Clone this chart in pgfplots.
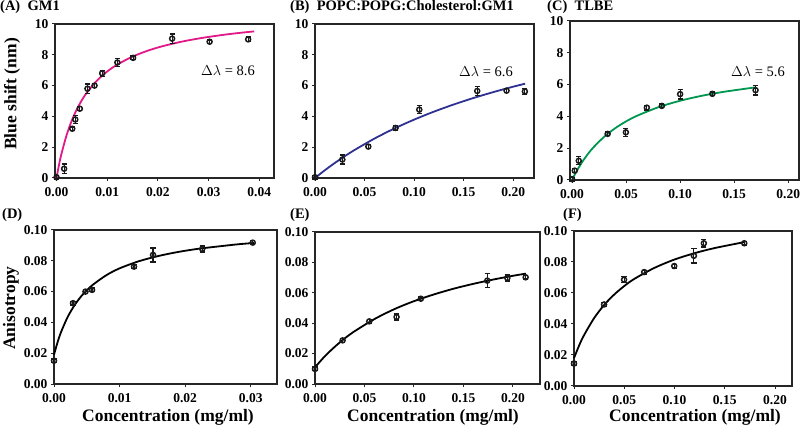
\documentclass[border=0pt]{standalone}
\usepackage{fontspec}
\setmainfont{Liberation Serif}
\usepackage{pgfplots}
\pgfplotsset{compat=1.18}

\definecolor{gmpink}{RGB}{224,24,136}
\definecolor{popcblue}{RGB}{46,49,146}
\definecolor{tlbegreen}{RGB}{0,150,80}

\newcommand\tickfont{\fontsize{13.5pt}{15pt}\selectfont\bfseries}
\newcommand\titlefont{\fontsize{14.5pt}{16pt}\selectfont\bfseries}
\newcommand\labfont{\fontsize{17.5pt}{19pt}\selectfont\bfseries}

\pgfplotsset{
  panel/.style={
    scale only axis, anchor=south west, clip=false,
    axis line style={line width=1.5pt, black!85},
    tick style={line width=1pt, black!85},
    tick align=outside, major tick length=3pt, tick pos=left,
    tick label style={font=\tickfont},
    /pgf/number format/assume math mode=true,
    scaled ticks=false,
    xticklabel style={inner sep=1pt, yshift=-5.5pt, /pgf/number format/.cd, fixed, fixed zerofill, precision=2},
  },
  shiftax/.style={ymin=0, ymax=10, ytick={0,2,4,6,8,10}},
  anisoax/.style={ymin=0, ymax=0.1, ytick={0,0.02,0.04,0.06,0.08,0.10},
    yticklabel style={/pgf/number format/.cd, fixed, fixed zerofill, precision=2}},
  pts/.style={only marks, mark=o, mark size=2.5pt, black!90, line width=1.5pt,
    error bars/.cd, y dir=both, y explicit,
    error bar style={line width=1.1pt, black!90},
    error mark options={rotate=90, mark size=2.6pt, line width=1.3pt, black!90}},
  fit/.style={no marks, smooth, line width=1.8pt},
}

\begin{document}
\begin{tikzpicture}
\path[use as bounding box] (0,0) rectangle (800pt,431pt);

% (A) GM1
\begin{axis}[panel, shiftax, at={(55pt,253pt)}, width=219pt, height=154pt,
  xmin=-0.0003, xmax=0.0429, xtick={0,0.01,0.02,0.03,0.04}]
\addplot[fit, gmpink] coordinates {
  (0,0) (0.0005,0.866) (0.001,1.604) (0.002,2.798) (0.003,3.721) (0.004,4.456)
  (0.005,5.055) (0.006,5.553) (0.008,6.333) (0.010,6.915) (0.012,7.367)
  (0.015,7.882) (0.018,8.267) (0.021,8.566) (0.025,8.874) (0.029,9.111)
  (0.033,9.300) (0.036,9.418) (0.039,9.520)};
\addplot[pts] coordinates {
  (0,0.05) +- (0,0.12)
  (0.0015,0.6) +- (0,0.3)
  (0.0031,3.2) +- (0,0.12)
  (0.0037,3.8) +- (0,0.25)
  (0.0046,4.5) +- (0,0.12)
  (0.0061,5.8) +- (0,0.3)
  (0.0075,6.0) +- (0,0.12)
  (0.0090,6.8) +- (0,0.2)
  (0.0120,7.5) +- (0,0.25)
  (0.0151,7.8) +- (0,0.12)
  (0.0228,9.05) +- (0,0.3)
  (0.0302,8.85) +- (0,0.12)
  (0.0378,9.0) +- (0,0.15)};
\end{axis}

% (B) POPC:POPG:Cholesterol:GM1
\begin{axis}[panel, shiftax, at={(315pt,253pt)}, width=219pt, height=154pt,
  xmin=0, xmax=0.221, xtick={0,0.05,0.10,0.15,0.20}]
\addplot[fit, popcblue] coordinates {
  (0,0) (0.01,0.506) (0.02,0.976) (0.03,1.413) (0.04,1.821) (0.06,2.560)
  (0.08,3.211) (0.10,3.790) (0.12,4.308) (0.14,4.774) (0.16,5.196)
  (0.18,5.579) (0.20,5.929) (0.212,6.124)};
\addplot[pts] coordinates {
  (0,0.05) +- (0,0.12)
  (0.0276,1.2) +- (0,0.3)
  (0.0538,2.04) +- (0,0.12)
  (0.0813,3.25) +- (0,0.15)
  (0.1052,4.44) +- (0,0.25)
  (0.1637,5.65) +- (0,0.3)
  (0.1933,5.67) +- (0,0.12)
  (0.2118,5.62) +- (0,0.2)};
\end{axis}

% (C) TLBE
\begin{axis}[panel, shiftax, at={(570pt,251pt)}, width=229pt, height=159pt,
  xmin=-0.0019, xmax=0.210, xtick={0,0.05,0.10,0.15,0.20}]
\addplot[fit, tlbegreen] coordinates {
  (0,0) (0.002,0.273) (0.005,0.648) (0.01,1.195) (0.015,1.663) (0.02,2.069)
  (0.03,2.736) (0.04,3.261) (0.05,3.686) (0.06,4.036) (0.08,4.581)
  (0.10,4.984) (0.12,5.295) (0.14,5.542) (0.17,5.830)};
\addplot[pts] coordinates {
  (0,0.05) +- (0,0.12)
  (0.0025,0.59) +- (0,0.12)
  (0.0062,1.21) +- (0,0.25)
  (0.0329,2.9) +- (0,0.12)
  (0.0498,3.0) +- (0,0.25)
  (0.0692,4.55) +- (0,0.15)
  (0.0831,4.66) +- (0,0.12)
  (0.1000,5.4) +- (0,0.3)
  (0.1298,5.42) +- (0,0.12)
  (0.1698,5.65) +- (0,0.3)};
\end{axis}

% (D)
\begin{axis}[panel, anisoax, at={(54pt,47pt)}, width=223pt, height=154pt,
  xmin=0, xmax=0.034, xtick={0,0.01,0.02,0.03}]
\addplot[fit, black] coordinates {
  (0,0.0190) (0.0005,0.0265) (0.001,0.0329) (0.002,0.0428) (0.003,0.0503)
  (0.004,0.0562) (0.005,0.0609) (0.006,0.0647) (0.008,0.0707) (0.010,0.0751)
  (0.013,0.0798) (0.016,0.0832) (0.019,0.0858) (0.022,0.0878) (0.025,0.0893)
  (0.028,0.0907) (0.0305,0.0916)};
\addplot[pts] coordinates {
  (0,0.0151) +- (0,0.0012)
  (0.0029,0.0525) +- (0,0.0012)
  (0.0048,0.0600) +- (0,0.0012)
  (0.0058,0.0611) +- (0,0.0012)
  (0.0122,0.0762) +- (0,0.0012)
  (0.0151,0.0838) +- (0,0.0045)
  (0.0226,0.0877) +- (0,0.002)
  (0.0303,0.0918) +- (0,0.0012)};
\end{axis}

% (E)
\begin{axis}[panel, anisoax, at={(315pt,47pt)}, width=225pt, height=152pt,
  xmin=0, xmax=0.2273, xtick={0,0.05,0.10,0.15,0.20}]
\addplot[fit, black] coordinates {
  (0,0.0110) (0.01,0.0183) (0.02,0.0245) (0.03,0.0300) (0.04,0.0347)
  (0.06,0.0427) (0.08,0.0492) (0.10,0.0545) (0.12,0.0589) (0.14,0.0627)
  (0.16,0.0659) (0.18,0.0687) (0.20,0.0712) (0.213,0.0726)};
\addplot[pts] coordinates {
  (0,0.0099) +- (0,0.0012)
  (0.0279,0.0287) +- (0,0.0012)
  (0.0548,0.0412) +- (0,0.0012)
  (0.0824,0.0441) +- (0,0.002)
  (0.1069,0.0561) +- (0,0.0012)
  (0.1740,0.0680) +- (0,0.0045)
  (0.1943,0.0697) +- (0,0.002)
  (0.2128,0.0702) +- (0,0.0012)};
\end{axis}

% (F)
\begin{axis}[panel, anisoax, at={(574pt,45pt)}, width=218pt, height=155pt,
  xmin=0, xmax=0.2169, xtick={0,0.05,0.10,0.15,0.20}]
\addplot[fit, black] coordinates {
  (0,0.0180) (0.005,0.0260) (0.01,0.0328) (0.02,0.0438) (0.03,0.0523)
  (0.04,0.0590) (0.05,0.0645) (0.06,0.0691) (0.08,0.0762) (0.10,0.0816)
  (0.12,0.0857) (0.14,0.0890) (0.17,0.0929)};
\addplot[pts] coordinates {
  (0,0.0145) +- (0,0.0012)
  (0.0299,0.0526) +- (0,0.0012)
  (0.0498,0.0686) +- (0,0.002)
  (0.0698,0.0735) +- (0,0.0012)
  (0.0997,0.0774) +- (0,0.0012)
  (0.1193,0.0840) +- (0,0.0046)
  (0.1292,0.0921) +- (0,0.0025)
  (0.1694,0.0921) +- (0,0.0012)};
\end{axis}

% panel titles
\node[anchor=west, inner sep=0, font=\titlefont] at (0pt,424pt) {(A)\ \ GM1};
\node[anchor=west, inner sep=0, font=\titlefont] at (290pt,424pt) {(B)\ \ POPC:POPG:Cholesterol:GM1};
\node[anchor=west, inner sep=0, font=\titlefont] at (547pt,424pt) {(C)\ \ TLBE};
\node[anchor=west, inner sep=0, font=\titlefont] at (2pt,216pt) {(D)};
\node[anchor=west, inner sep=0, font=\titlefont] at (290pt,216pt) {(E)};
\node[anchor=west, inner sep=0, font=\titlefont] at (563pt,216pt) {(F)};

% delta lambda
\node[font=\fontsize{14.5pt}{16pt}\selectfont] at (228pt,360pt) {$\Delta\lambda$ = 8.6};
\node[font=\fontsize{14.5pt}{16pt}\selectfont] at (486pt,359pt) {$\Delta\lambda$ = 6.6};
\node[font=\fontsize{14.5pt}{16pt}\selectfont] at (758pt,359pt) {$\Delta\lambda$ = 5.6};

% axis labels
\node[rotate=90, inner sep=0, font=\labfont] at (12pt,337pt) {Blue shift (nm)};
\node[rotate=90, inner sep=0, font=\labfont] at (11pt,123pt) {Anisotropy};
\node[inner sep=0, font=\labfont] at (168pt,14pt) {Concentration (mg/ml)};
\node[inner sep=0, font=\labfont] at (433pt,14pt) {Concentration (mg/ml)};
\node[inner sep=0, font=\labfont] at (695pt,14pt) {Concentration (mg/ml)};
\end{tikzpicture}
\end{document}
